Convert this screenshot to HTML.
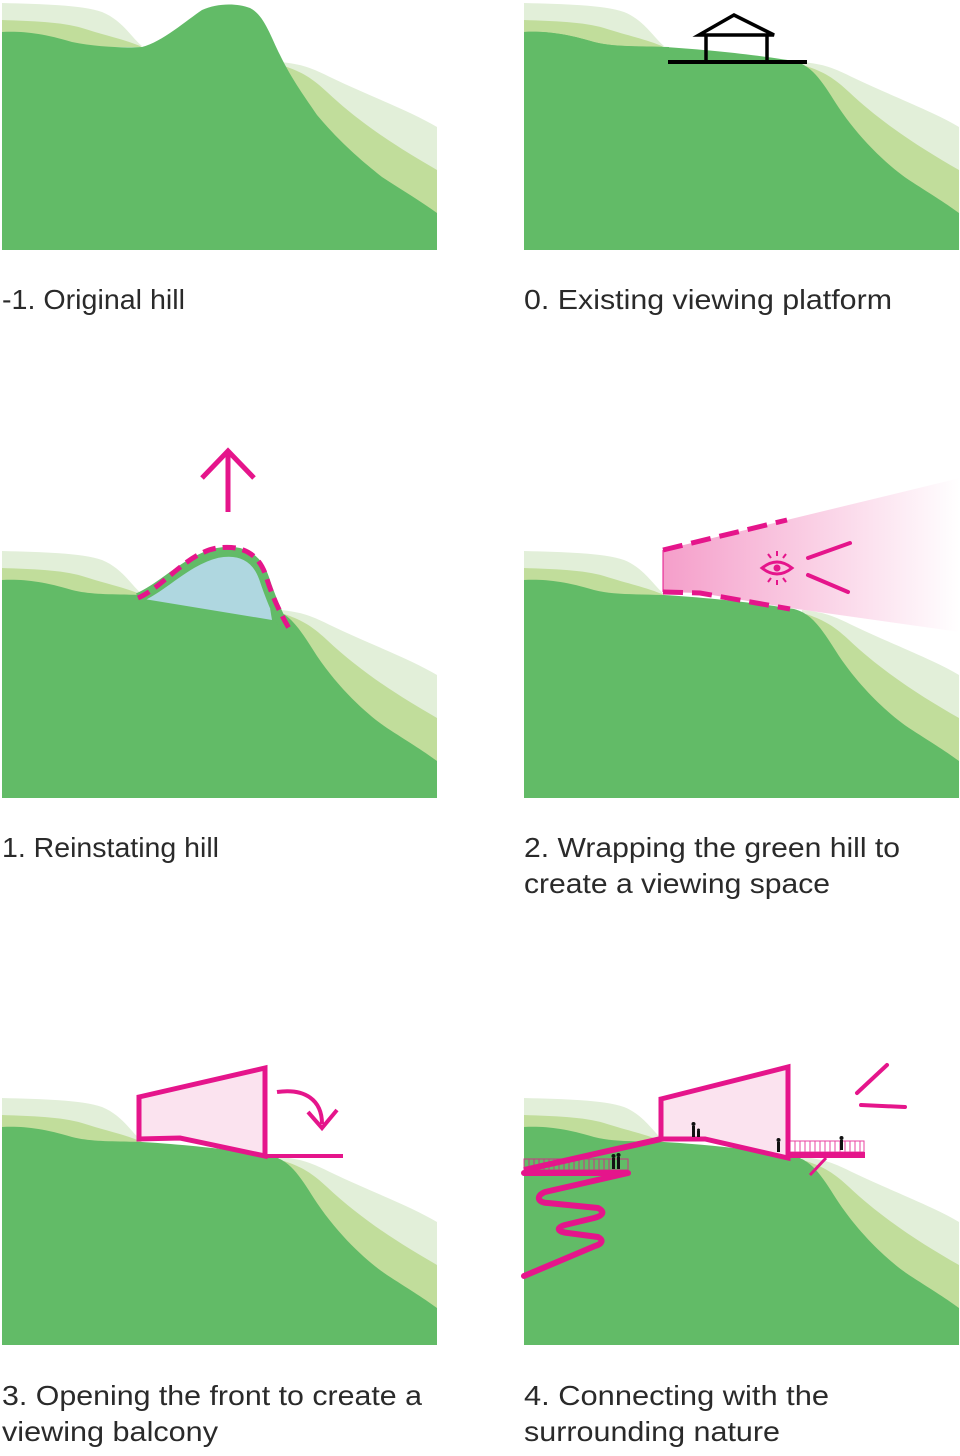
<!DOCTYPE html>
<html><head><meta charset="utf-8"><style>
body{margin:0;background:#fff;}
svg{display:block}
text{font-family:"Liberation Sans",sans-serif;font-size:28px;fill:#2a2a2a;}
</style></head><body>
<svg width="960" height="1456" viewBox="0 0 960 1456" xmlns="http://www.w3.org/2000/svg">
<defs>
<linearGradient id="pg" x1="0" x2="1" y1="0" y2="0">
<stop offset="0" stop-color="#ec4f9e" stop-opacity="0.55"/>
<stop offset="1" stop-color="#ec4f9e" stop-opacity="0"/>
</linearGradient>
<g id="bands">
<path d="M0,3 C40,4 80,5 100,12 C120,20 130,38 140,46 L0,46 Z" fill="#e2efd9"/>
<path d="M0,20 C30,21 60,22 80,28 C105,36 125,40 140,47 L0,47 Z" fill="#c1dd9b"/>
<path d="M278,62 C300,64 310,68 330,78 C370,97 410,112 435,127 L435,215 L278,215 Z" fill="#e2efd9"/>
<path d="M282,66 C300,72 310,78 325,92 C360,125 400,150 435,170 L435,215 L282,215 Z" fill="#c1dd9b"/>
</g>
<g id="flat">
<use href="#bands"/>
<path d="M0,32 C20,31 40,33 70,42 C90,47 110,46 140,47 C190,50 240,56 270,61 C290,66 300,85 315,108 C340,145 370,170 385,180 C405,193 420,202 435,213 L435,250 L0,250 Z" fill="#62bb67"/>
</g>
</defs>

<!-- Panel -1 -->
<g transform="translate(2,0)">
<use href="#bands"/>
<path d="M0,32 C20,31 40,33 70,42 C95,47 120,48 140,47 C160,42 185,20 200,10 C215,3 235,3 248,8 C262,15 268,35 278,55 C290,80 305,100 315,115 C340,145 365,165 380,177 C400,190 420,202 435,213 L435,250 L0,250 Z" fill="#62bb67"/>
</g>
<text x="2" y="309" textLength="183" lengthAdjust="spacingAndGlyphs">-1. Original hill</text>

<!-- Panel 0 -->
<g transform="translate(524,0)">
<use href="#flat"/>
<path d="M0,32 C20,31 40,33 70,42 C90,47 110,46 145,47 L145,62 L0,62Z" fill="#62bb67"/>
<line x1="144" y1="62" x2="283" y2="62" stroke="#000" stroke-width="4"/>
<path d="M175,35 L210,15 L250,35 Z" fill="none" stroke="#000" stroke-width="3.5"/>
<line x1="182" y1="35" x2="182" y2="62" stroke="#000" stroke-width="3.5"/>
<line x1="243" y1="35" x2="243" y2="62" stroke="#000" stroke-width="3.5"/>
</g>
<text x="524" y="309" textLength="368" lengthAdjust="spacingAndGlyphs">0. Existing viewing platform</text>

<!-- Panel 1 -->
<g transform="translate(2,548)">
<use href="#flat"/>
<path d="M136,50 C160,40 185,12 215,5 C240,0 255,10 262,30 C266,45 268,60 270,72 Z" fill="#afd7e0"/>
<path d="M136,50 C160,40 185,12 215,5 C240,0 255,10 262,30 C268,48 275,65 282,78" fill="none" stroke="#62bb67" stroke-width="10"/>
<path d="M136,50 C160,40 185,5 215,0 C245,-4 258,10 264,28 C270,48 278,65 288,82" fill="none" stroke="#e5158b" stroke-width="5" stroke-dasharray="13,7"/>
</g>
<line x1="228" y1="512" x2="228" y2="452" stroke="#e5158b" stroke-width="5"/>
<path d="M202,478 L228,451 L254,478" fill="none" stroke="#e5158b" stroke-width="5"/>
<text x="2" y="857" textLength="217" lengthAdjust="spacingAndGlyphs">1. Reinstating hill</text>

<!-- Panel 2 -->
<g transform="translate(524,548)">
<use href="#flat"/>
</g>
<path d="M663,550 L960,478 L960,632 L790,608 L700,593 L663,592 Z" fill="url(#pg)"/>
<path d="M663,550 L787,520" stroke="#e5158b" stroke-width="5" stroke-dasharray="20,9"/>
<path d="M663,592 L700,593 L790,609" fill="none" stroke="#e5158b" stroke-width="5" stroke-dasharray="20,9"/>
<line x1="663" y1="550" x2="663" y2="592" stroke="#e5158b" stroke-width="2" opacity="0.5"/>
<path d="M762,568 Q777,556 792,568 Q777,580 762,568Z" fill="none" stroke="#e5158b" stroke-width="3"/>
<circle cx="777" cy="568" r="3.5" fill="#e5158b"/>
<g stroke="#e5158b" stroke-width="2"><line x1="777" y1="551" x2="777" y2="556"/><line x1="768" y1="554" x2="771" y2="558"/><line x1="786" y1="554" x2="783" y2="558"/><line x1="777" y1="580" x2="777" y2="585"/><line x1="768" y1="582" x2="771" y2="578"/><line x1="786" y1="582" x2="783" y2="578"/></g>
<line x1="808" y1="558" x2="850" y2="543" stroke="#e5158b" stroke-width="4" stroke-linecap="round"/>
<line x1="808" y1="575" x2="848" y2="592" stroke="#e5158b" stroke-width="4" stroke-linecap="round"/>
<text x="524" y="857" textLength="376" lengthAdjust="spacingAndGlyphs">2. Wrapping the green hill to</text>
<text x="524" y="893" textLength="306" lengthAdjust="spacingAndGlyphs">create a viewing space</text>

<!-- Panel 3 -->
<g transform="translate(2,1095)">
<use href="#flat"/>
</g>
<path d="M139,1097 L265,1068 L265,1156 L180,1138 L139,1139 Z" fill="#fbe3ef" stroke="#e5158b" stroke-width="5" stroke-linejoin="miter"/>
<line x1="265" y1="1156" x2="343" y2="1156" stroke="#e5158b" stroke-width="4"/>
<path d="M277,1092 C305,1088 322,1100 322,1124" fill="none" stroke="#e5158b" stroke-width="4"/>
<path d="M308,1112 L322,1128 L337,1110" fill="none" stroke="#e5158b" stroke-width="4"/>
<text x="2" y="1405" textLength="420" lengthAdjust="spacingAndGlyphs">3. Opening the front to create a</text>
<text x="2" y="1441" textLength="216" lengthAdjust="spacingAndGlyphs">viewing balcony</text>

<!-- Panel 4 -->
<g transform="translate(524,1095)">
<use href="#flat"/>
</g>
<path d="M661,1099 L788,1067 L788,1158 L705,1139 L661,1139 Z" fill="#fbe3ef" stroke="#e5158b" stroke-width="5"/>
<g stroke="#e5158b" stroke-width="1" opacity="0.8">
<rect x="790" y="1141" width="74" height="11" fill="none"/>
<path d="M795,1141v11M800,1141v11M805,1141v11M810,1141v11M815,1141v11M820,1141v11M825,1141v11M830,1141v11M835,1141v11M840,1141v11M845,1141v11M850,1141v11M855,1141v11M860,1141v11"/>
<rect x="524" y="1159" width="104" height="11" fill="none"/>
<path d="M529,1159v11M534,1159v11M539,1159v11M544,1159v11M549,1159v11M554,1159v11M559,1159v11M564,1159v11M569,1159v11M574,1159v11M579,1159v11M584,1159v11M589,1159v11M594,1159v11M599,1159v11M604,1159v11M609,1159v11M614,1159v11M619,1159v11"/>
</g>
<line x1="788" y1="1155" x2="865" y2="1155" stroke="#e5158b" stroke-width="6"/>
<line x1="826" y1="1158" x2="810" y2="1175" stroke="#e5158b" stroke-width="3"/>
<path d="M524,1170 L661,1139" stroke="#e5158b" stroke-width="6"/>
<path d="M524,1173 L628,1173 L545,1192 C535,1196 538,1203 548,1203 L598,1208 C606,1212 602,1216 594,1218 L565,1225 C555,1228 558,1232 568,1233 L598,1237 C604,1240 602,1244 595,1246 L524,1276" fill="none" stroke="#e5158b" stroke-width="6" stroke-linejoin="round" stroke-linecap="round"/>
<line x1="857" y1="1093" x2="887" y2="1065" stroke="#e5158b" stroke-width="4" stroke-linecap="round"/>
<line x1="861" y1="1105" x2="905" y2="1107" stroke="#e5158b" stroke-width="4" stroke-linecap="round"/>
<g fill="#111">
<circle cx="693.5" cy="1124" r="2"/><rect x="692" y="1126" width="3" height="11"/><circle cx="698.5" cy="1130" r="1.5"/><rect x="697" y="1131" width="3" height="6"/>
<circle cx="778.5" cy="1140" r="2"/><rect x="777" y="1142" width="3" height="10"/>
<circle cx="841.5" cy="1138" r="2"/><rect x="840" y="1140" width="3" height="10"/>
<circle cx="613.5" cy="1156" r="2"/><rect x="612" y="1158" width="3" height="11"/>
<circle cx="618.5" cy="1155" r="2"/><rect x="617" y="1157" width="3" height="12"/>
</g>
<text x="524" y="1405" textLength="305" lengthAdjust="spacingAndGlyphs">4. Connecting with the</text>
<text x="524" y="1441" textLength="256" lengthAdjust="spacingAndGlyphs">surrounding nature</text>
</svg>
</body></html>
